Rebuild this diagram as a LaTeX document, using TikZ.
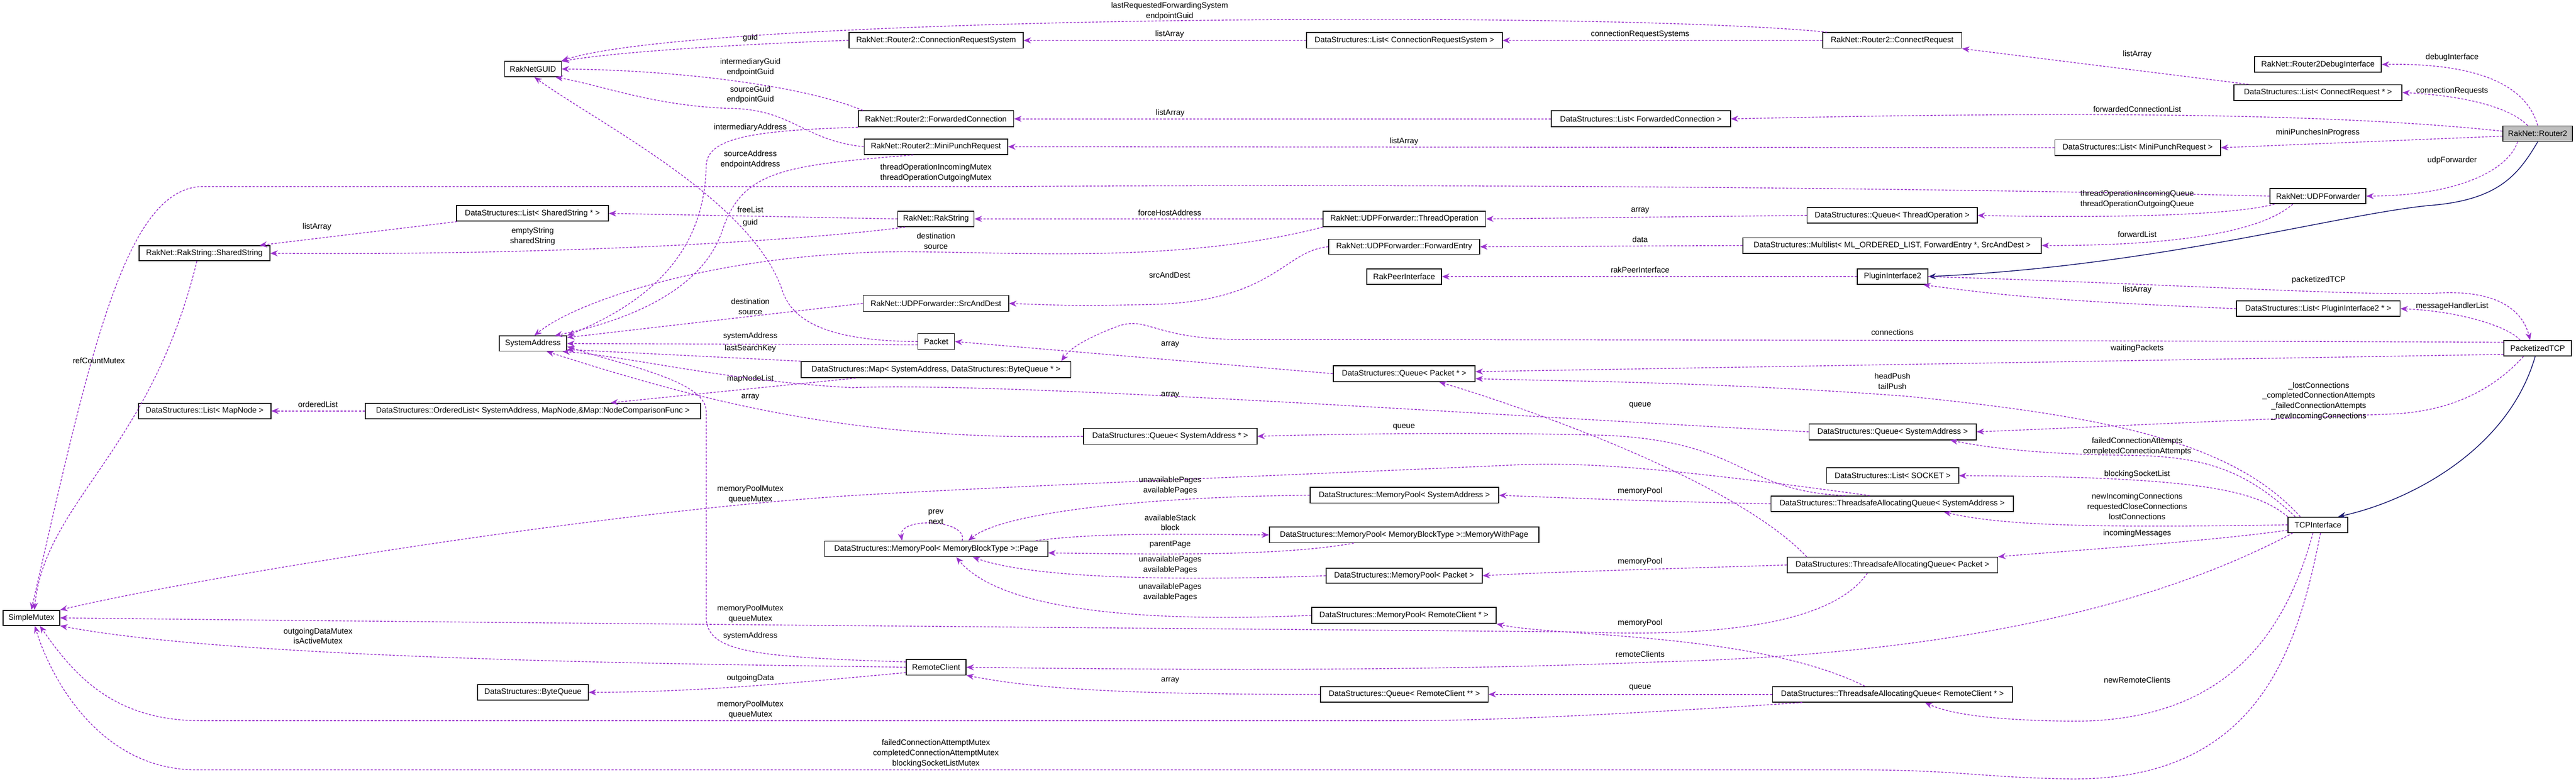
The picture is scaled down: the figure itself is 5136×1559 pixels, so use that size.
\documentclass[tikz,border=0pt]{standalone}
\usepackage{fontspec}
\setmainfont{Liberation Sans}
\usetikzlibrary{arrows.meta,calc}
\definecolor{purp}{RGB}{154,50,205}
\definecolor{navy}{RGB}{25,25,112}
\definecolor{gfill}{RGB}{191,191,191}
\newcommand\bx[7][white]{\node[box,fill=#1,minimum width={(#4-#3)*0.01cm},minimum height={(#6-#5)*0.01cm}] (#2) at ({(#3+#4)/2},{(#5+#6)/2}) {#7};}
\tikzset{
 box/.style={draw=black,line width=0.5pt,inner sep=0pt,font=\fontsize{4.5}{5.8}\selectfont},
 e/.style={draw=purp,line width=0.45pt,dash pattern=on 1.2pt off 0.9pt,-{Stealth[length=4.2pt,width=3.4pt]}},
 inh/.style={draw=navy,line width=0.45pt,-{Stealth[length=4.2pt,width=3.4pt]}},
 lbl/.style={font=\fontsize{4.5}{5.8}\selectfont,align=center,inner sep=0pt}
}
\begin{document}
\begin{tikzpicture}[x=0.01cm,y=-0.01cm]
\useasboundingbox (0,0) rectangle (5136,1559);
% nodes
\bx{guid}{1006}{1119}{122}{153}{RakNetGUID}
\bx{crs}{1693}{2040}{65}{96}{RakNet::Router2::ConnectionRequestSystem}
\bx{lcrs}{2605}{2995}{65}{96}{DataStructures::List< ConnectionRequestSystem >}
\bx{crq}{3634}{3911}{65}{96}{RakNet::Router2::ConnectRequest}
\bx{dbg}{4495}{4748}{113}{144}{RakNet::Router2DebugInterface}
\bx{lcr}{4454}{4789}{169}{200}{DataStructures::List< ConnectRequest * >}
\bx[gfill]{r2}{4990}{5129}{251}{282}{RakNet::Router2}
\bx{fc}{1711}{2021}{221}{253}{RakNet::Router2::ForwardedConnection}
\bx{lfc}{3093}{3450}{221}{253}{DataStructures::List< ForwardedConnection >}
\bx{mpr}{1723}{2009}{277}{308}{RakNet::Router2::MiniPunchRequest}
\bx{lmpr}{4097}{4427}{279}{310}{DataStructures::List< MiniPunchRequest >}
\bx{udpf}{4526}{4717}{376}{406}{RakNet::UDPForwarder}
\bx{qto}{3603}{3942}{414}{445}{DataStructures::Queue< ThreadOperation >}
\bx{thop}{2638}{2962}{421}{452}{RakNet::UDPForwarder::ThreadOperation}
\bx{rs}{1790}{1942}{421}{452}{RakNet::RakString}
\bx{lss}{910}{1213}{410}{441}{DataStructures::List< SharedString * >}
\bx{ss}{277}{538}{490}{520}{RakNet::RakString::SharedString}
\bx{fe}{2649}{2950}{477}{507}{RakNet::UDPForwarder::ForwardEntry}
\bx{ml}{3475}{4070}{474}{505}{DataStructures::Multilist< ML\_ORDERED\_LIST, ForwardEntry *, SrcAndDest >}
\bx{sa}{995}{1130}{670}{700}{SystemAddress}
\bx{lmn}{276}{540}{804}{835}{DataStructures::List< MapNode >}
\bx{ol}{728}{1397}{804}{835}{DataStructures::OrderedList< SystemAddress, MapNode,\&Map::NodeComparisonFunc >}
\bx{sad}{1721}{2011}{589}{621}{RakNet::UDPForwarder::SrcAndDest}
\bx{map}{1597}{2135}{721}{753}{DataStructures::Map< SystemAddress, DataStructures::ByteQueue * >}
\bx{pkt}{1830}{1903}{665}{697}{Packet}
\bx{rpi}{2725}{2874}{536}{567}{RakPeerInterface}
\bx{qp}{2658}{2941}{729}{761}{DataStructures::Queue< Packet * >}
\bx{qsap}{2160}{2506}{854}{886}{DataStructures::Queue< SystemAddress * >}
\bx{mpsa}{2612}{2988}{972}{1003}{DataStructures::MemoryPool< SystemAddress >}
\bx{pi}{3703}{3844}{536}{567}{PluginInterface2}
\bx{lpi}{4459}{4785}{600}{631}{DataStructures::List< PluginInterface2 * >}
\bx{ptcp}{4992}{5127}{679}{710}{PacketizedTCP}
\bx{qsa}{3607}{3940}{845}{877}{DataStructures::Queue< SystemAddress >}
\bx{lsock}{3642}{3905}{933}{964}{DataStructures::List< SOCKET >}
\bx{taqsa}{3531}{4014}{989}{1020}{DataStructures::ThreadsafeAllocatingQueue< SystemAddress >}
\bx{tcp}{4562}{4681}{1031}{1062}{TCPInterface}
\bx{taqp}{3563}{3983}{1111}{1142}{DataStructures::ThreadsafeAllocatingQueue< Packet >}
\bx{taqrc}{3534}{4012}{1369}{1400}{DataStructures::ThreadsafeAllocatingQueue< RemoteClient * >}
\bx{sm}{6}{119}{1217}{1247}{SimpleMutex}
\bx{bq}{952}{1173}{1365}{1396}{DataStructures::ByteQueue}
\bx{page}{1644}{2089}{1079}{1110}{DataStructures::MemoryPool< MemoryBlockType >::Page}
\bx{mwp}{2531}{3068}{1051}{1082}{DataStructures::MemoryPool< MemoryBlockType >::MemoryWithPage}
\bx{mpp}{2644}{2955}{1133}{1163}{DataStructures::MemoryPool< Packet >}
\bx{mprc}{2615}{2983}{1211}{1243}{DataStructures::MemoryPool< RemoteClient * >}
\bx{rc}{1807}{1926}{1315}{1346}{RemoteClient}
\bx{qrc}{2633}{2967}{1369}{1400}{DataStructures::Queue< RemoteClient ** >}
% inheritance
\draw[inh] (r2.south) .. controls (5020,350) and (4980,400) .. (4840,410) .. controls (4650,430) and (4300,530) .. (pi.east);
\draw[inh] ($(ptcp.south)+(-5,0)$) .. controls (5000,900) and (4800,1000) .. ($(tcp.north east)+(-20,0)$);
% top part
\draw[e] (r2.north) .. controls (5040,180) and (4960,125) .. (dbg.east) node[lbl] at (4889,115) {debugInterface};
\draw[e] ($(r2.north)+(-20,0)$) .. controls (5000,210) and (4900,190) .. (lcr.east) node[lbl] at (4889,181) {connectionRequests};
\draw[e] ($(lcr.north west)+(30,0)$) -- (crq.south east) node[lbl] at (4261,108) {listArray};
\draw[e] (crq.west) -- (lcrs.east) node[lbl] at (3270,68) {connectionRequestSystems};
\draw[e] (lcrs.west) -- (crs.east) node[lbl] at (2332,68) {listArray};
\draw[e] ($(crq.north west)+(10,0)$) .. controls (3200,20) and (1400,30) .. (guid.north east) node[lbl] at (2332,22) {lastRequestedForwardingSystem\\endpointGuid};
\draw[e] (crs.west) .. controls (1550,85) and (1250,100) .. (guid.15) node[lbl] at (1496,76) {guid};
\draw[e] ($(fc.north west)+(10,0)$) .. controls (1600,170) and (1350,140) .. (guid.east) node[lbl] at (1496,134) {intermediaryGuid\\endpointGuid};
\draw[e] (mpr.west) .. controls (1600,280) and (1580,216) .. (1450,216) .. controls (1300,210) and (1200,170) .. (guid.-20) node[lbl] at (1496,189) {sourceGuid\\endpointGuid};
\draw[e] (fc.south west) .. controls (1500,260) and (1410,275) .. (1408,330) .. controls (1405,500) and (1300,600) .. (sa.north east) node[lbl] at (1496,254) {intermediaryAddress};
\draw[e] (mpr.-160) .. controls (1560,330) and (1480,340) .. (1440,460) .. controls (1400,580) and (1250,640) .. (sa.20) node[lbl] at (1496,318) {sourceAddress\\endpointAddress};
\draw[e] ($(r2.west)+(0,-5)$) .. controls (4600,220) and (4000,225) .. (lfc.east) node[lbl] at (4261,218) {forwardedConnectionList};
\draw[e] (lfc.west) -- (fc.east) node[lbl] at (2333,225) {listArray};
\draw[e] ($(r2.west)+(0,5)$) -- (lmpr.east) node[lbl] at (4621,265) {miniPunchesInProgress};
\draw[e] (lmpr.west) -- (mpr.east) node[lbl] at (2799,282) {listArray};
\draw[e] ($(r2.south)+(-40,0)$) .. controls (5000,340) and (4900,390) .. (udpf.east) node[lbl] at (4889,320) {udpForwarder};
\draw[e] (udpf.west) .. controls (4000,378) and (3000,365) .. (2000,372) -- (400,372) .. controls (250,380) and (180,700) .. (sm.north) node[lbl] at (1866,345) {threadOperationIncomingMutex\\threadOperationOutgoingMutex};
\draw[e] ($(udpf.south west)+(10,0)$) .. controls (4450,430) and (4200,435) .. (qto.east) node[lbl] at (4261,397) {threadOperationIncomingQueue\\threadOperationOutgoingQueue};
\draw[e] ($(udpf.south)+(-50,0)$) .. controls (4500,470) and (4300,490) .. (ml.east) node[lbl] at (4261,467) {forwardList};
\draw[e] (qto.west) -- (thop.east) node[lbl] at (3270,420) {array};
\draw[e] (thop.west) -- (rs.east) node[lbl] at (2332,424) {forceHostAddress};
\draw[e] (thop.south west) .. controls (2300,540) and (1900,490) .. (1700,505) .. controls (1400,520) and (1150,600) .. (sa.80) node[lbl] at (1866,481) {destination\\source};
\draw[e] (ml.west) -- (fe.east) node[lbl] at (3270,478) {data};
\draw[e] (fe.west) .. controls (2560,500) and (2540,600) .. (2300,607) .. controls (2150,610) .. (sad.east) node[lbl] at (2332,548) {srcAndDest};
\draw[e] (sad.west) -- (sa.10) node[lbl] at (1496,611) {destination\\source};
\draw[e] (rs.west) -- (lss.east) node[lbl] at (1496,418) {freeList};
\draw[e] (rs.-165) .. controls (1600,480) and (1100,510) .. (ss.east) node[lbl] at (1062,471) {emptyString\\sharedString};
\draw[e] ($(lss.south west)+(2,0)$) -- ($(ss.north)+(110,0)$) node[lbl] at (632,452) {listArray};
\draw[e] ($(ss.south)+(-15,0)$) .. controls (300,900) and (90,1000) .. ($(sm.north)+(6,0)$) node[lbl] at (197,719) {refCountMutex};
% middle
\draw[e] (pi.west) -- (rpi.east) node[lbl] at (3270,538) {rakPeerInterface};
\draw[e] (lpi.west) .. controls (4100,600) and (4000,590) .. (pi.-15) node[lbl] at (4261,578) {listArray};
\draw[e] ($(ptcp.north)+(-35,0)$) .. controls (5000,650) and (4900,620) .. (lpi.east) node[lbl] at (4889,611) {messageHandlerList};
\draw[e] (pi.east) .. controls (4300,565) and (4700,590) .. (4850,585) .. controls (4980,575) and (5030,620) .. ($(ptcp.north)+(-15,0)$) node[lbl] at (4623,558) {packetizedTCP};
\draw[e] (pkt.west) .. controls (1650,680) and (1580,640) .. (1560,580) .. controls (1500,400) and (1200,250) .. (guid.-80) node[lbl] at (1496,444) {guid};
\draw[e] (pkt.190) -- (sa.east) node[lbl] at (1496,670) {systemAddress};
\draw[e] (map.north west) -- (sa.-10) node[lbl] at (1496,695) {lastSearchKey};
\draw[e] ($(map.south west)+(110,0)$) -- ($(ol.north)+(155,0)$) node[lbl] at (1496,755) {mapNodeList};
\draw[e] (ol.west) -- (lmn.east) node[lbl] at (634,806) {orderedList};
\draw[e] (qsap.west) .. controls (1700,880) and (1400,800) .. (sa.-30) node[lbl] at (1496,792) {array};
\draw[e] (qsa.west) .. controls (3000,830) and (2000,760) .. (1700,773) .. controls (1450,760) and (1250,710) .. (sa.-15) node[lbl] at (2333,788) {array};
\draw[e] (taqsa.170) .. controls (3470,980) and (3480,880) .. (3200,868) .. controls (3000,862) and (2700,864) .. (qsap.east) node[lbl] at (2799,851) {queue};
\draw[e] ($(taqp.north west)+(40,0)$) .. controls (3450,950) and (3000,800) .. ($(qp.south)+(70,0)$) node[lbl] at (3270,808) {queue};
\draw[e] (ptcp.-170) -- ($(qp.east)+(0,-4)$) node[lbl] at (4261,695) {waitingPackets};
\draw[e] (ptcp.170) .. controls (4000,678) and (2700,677) .. (2480,677) .. controls (2300,677) and (2290,630) .. (2230,650) .. controls (2150,680) and (2130,700) .. ($(map.north)+(250,0)$) node[lbl] at (3773,663) {connections};
\draw[e] (qp.west) -- (pkt.east) node[lbl] at (2333,687) {array};
\draw[e] ($(tcp.north west)+(25,0)$) .. controls (4450,880) and (4200,830) .. (3800,790) .. controls (3400,760) and (3100,760) .. ($(qp.east)+(0,10)$) node[lbl] at (3773,760) {headPush\\tailPush};
\draw[e] ($(ptcp.south west)+(40,0)$) .. controls (4950,800) and (4850,820) .. (4780,825) .. controls (4400,840) and (4100,855) .. (qsa.east) node[lbl] at (4623,800) {\_lostConnections\\\_completedConnectionAttempts\\\_failedConnectionAttempts\\\_newIncomingConnections};
\draw[e] ($(tcp.north west)+(15,0)$) .. controls (4480,940) and (4400,910) .. (4250,908) .. controls (4050,906) and (3950,890) .. ($(qsa.south)+(115,0)$) node[lbl] at (4261,890) {failedConnectionAttempts\\completedConnectionAttempts};
\draw[e] (tcp.north west) .. controls (4500,980) and (4400,950) .. (lsock.east) node[lbl] at (4261,946) {blockingSocketList};
\draw[e] (tcp.west) .. controls (4200,1052) and (4000,1050) .. ($(taqsa.south)+(103,0)$) node[lbl] at (4261,1010) {newIncomingConnections\\requestedCloseConnections\\lostConnections};
\draw[e] (tcp.-170) .. controls (4400,1080) and (4100,1100) .. (taqp.north east) node[lbl] at (4261,1064) {incomingMessages};
\draw[e] ($(tcp.south west)+(10,0)$) .. controls (4200,1260) and (3700,1310) .. (3300,1320) .. controls (2800,1340) and (2300,1335) .. (rc.east) node[lbl] at (3270,1305) {remoteClients};
\draw[e] ($(tcp.south)+(-10,0)$) .. controls (4560,1250) and (4450,1440) .. (4130,1438) .. controls (3950,1436) and (3880,1420) .. ($(taqrc.south)+(65,0)$) node[lbl] at (4261,1356) {newRemoteClients};
\draw[e] ($(tcp.south)+(5,0)$) .. controls (4580,1300) and (4500,1560) .. (4120,1553) .. controls (3950,1550) and (3900,1535) .. (3700,1535) -- (400,1535) .. controls (200,1540) and (100,1350) .. ($(sm.south)+(7,0)$) node[lbl] at (1866,1502) {failedConnectionAttemptMutex\\completedConnectionAttemptMutex\\blockingSocketListMutex};
\draw[e] ($(taqrc.south west)+(60,0)$) .. controls (3300,1420) and (3000,1437) .. (2800,1437) -- (400,1437) .. controls (230,1437) and (150,1350) .. ($(sm.south)+(17,0)$) node[lbl] at (1496,1415) {memoryPoolMutex\\queueMutex};
\draw[e] (taqrc.west) -- (qrc.east) node[lbl] at (3270,1371) {queue};
\draw[e] (qrc.west) .. controls (2200,1385) and (2050,1370) .. (rc.-15) node[lbl] at (2333,1357) {array};
\draw[e] ($(taqrc.north)+(-55,0)$) .. controls (3500,1260) and (3100,1270) .. (mprc.south east) node[lbl] at (3270,1242) {memoryPool};
\draw[e] (taqp.west) .. controls (3300,1135) and (3100,1140) .. (mpp.east) node[lbl] at (3270,1120) {memoryPool};
\draw[e] ($(taqp.south)+(-50,0)$) .. controls (3650,1250) and (3400,1270) .. (3150,1260) .. controls (2200,1252) and (800,1240) .. (sm.east) node[lbl] at (1496,1224) {memoryPoolMutex\\queueMutex};
\draw[e] (taqsa.west) .. controls (3300,1000) and (3100,992) .. (mpsa.east) node[lbl] at (3270,979) {memoryPool};
\draw[e] (taqsa.160) .. controls (3300,930) and (3150,920) .. (3000,928) .. controls (2500,950) and (2000,970) .. (1700,988) .. controls (1200,1020) and (400,1150) .. (sm.north east) node[lbl] at (1496,986) {memoryPoolMutex\\queueMutex};
% memory pool pages
\draw[e] (mpsa.west) .. controls (2300,990) and (2000,1020) .. ($(page.north)+(64,0)$) node[lbl] at (2333,968) {unavailablePages\\availablePages};
\draw[e] ($(page.north)+(52,0)$) .. controls (1930,1035) and (1790,1030) .. ($(page.north)+(-68,0)$) node[lbl] at (1866,1031) {prev\\next};
\draw[e] ($(page.north east)+(-25,0)$) .. controls (2200,1060) and (2400,1066) .. (mwp.west) node[lbl] at (2333,1042) {availableStack\\block};
\draw[e] ($(mwp.south)+(-100,0)$) .. controls (2550,1110) and (2300,1105) .. ($(page.east)+(0,8)$) node[lbl] at (2333,1086) {parentPage};
\draw[e] (mpp.west) .. controls (2300,1160) and (2050,1150) .. ($(page.south)+(73,0)$) node[lbl] at (2333,1126) {unavailablePages\\availablePages};
\draw[e] (mprc.west) .. controls (2200,1245) and (1980,1200) .. ($(page.south)+(40,0)$) node[lbl] at (2333,1181) {unavailablePages\\availablePages};
% remote client
\draw[e] (rc.west) .. controls (1500,1325) and (500,1320) .. (sm.south east) node[lbl] at (634,1268) {outgoingDataMutex\\isActiveMutex};
\draw[e] (rc.-170) .. controls (1600,1360) and (1400,1380) .. (bq.east) node[lbl] at (1496,1352) {outgoingData};
\draw[e] (rc.170) .. controls (1500,1310) and (1408,1300) .. (1408,1230) -- (1408,820) .. controls (1408,760) and (1250,730) .. (sa.-5) node[lbl] at (1496,1268) {systemAddress};
\end{tikzpicture}
\end{document}
